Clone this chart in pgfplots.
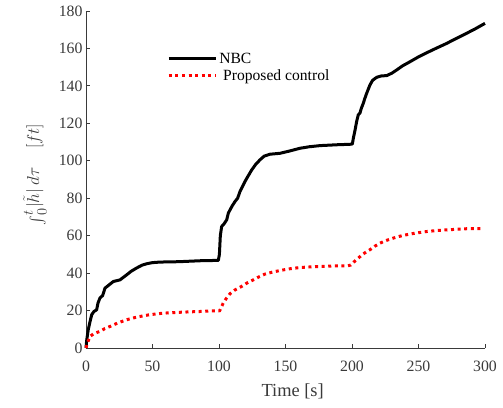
\documentclass[border=0pt]{standalone}
\usepackage{fontspec}
\setmainfont{Liberation Serif}
\usepackage{graphicx}
\usepackage{pgfplots}
\pgfplotsset{compat=1.18}

\definecolor{axisgray}{HTML}{3A3A3A}
\definecolor{nbcred}{HTML}{FF0000}
% enlarged integral sign with side limits
\newcommand{\bigint}{\mathop{\raisebox{-0.25em}{\scalebox{1.45}{$\int$}}}\nolimits}

\begin{document}
\begin{tikzpicture}
% fixed canvas: axis box south-west corner sits at the origin
\useasboundingbox (-86pt,-59pt) rectangle (417pt,348pt);
\begin{axis}[
  scale only axis,
  width=399pt, height=337pt,
  at={(0pt,0pt)}, anchor=south west,
  xmin=0, xmax=300, ymin=0, ymax=180,
  xtick={0,50,...,300}, ytick={0,20,...,180},
  axis x line*=bottom, axis y line*=left,
  axis line style={axisgray, line width=0.8pt, -},
  tick style={axisgray, line width=0.8pt},
  tick align=inside,
  major tick length=4pt,
  minor tick num=0,
  /pgf/number format/assume math mode=true,
  ticklabel style={font=\fontsize{15.8}{18}\selectfont, text=axisgray},
  xticklabel style={yshift=-9pt},
  xlabel={Time [s]},
  xlabel style={font=\fontsize{18.4}{22}\selectfont, text=axisgray,
    at={(axis description cs:0.518,0)}, anchor=base, yshift=-48pt},
  ylabel={$\bigint_0^t\!\big|\tilde{h}\big|\,d\tau\quad[ft]$},
  ylabel style={font=\fontsize{19}{22}\selectfont, text=axisgray,
    at={(axis description cs:-0.128,0.515)}, anchor=center},
  legend style={draw=none, fill=none, font=\fontsize{15.6}{18}\selectfont,
    at={(axis cs:61,158.8)}, anchor=north west, inner sep=0pt,
    row sep=1pt, cells={anchor=west}},
  legend image code/.code={%
    \path (0pt,0pt) -- (47pt,0pt);
    \draw[#1] (0pt,0pt) -- (40pt,0pt);},
  clip=false,
]
% uncontrolled baseline
\addplot[black, line width=3pt, line join=round] coordinates {
(0,0)(0.5,4)(1.7,9.8)(3,14)(4.3,17.8)(6,19.5)(8,20.4)(9,24)(10.5,26.7)
(12.5,28)(14.3,32)(17,33.5)(20.5,35.5)(25.6,36.4)(30.6,39.1)(34,41)
(38,42.7)(42,44.2)(45.6,45)(50,45.6)(55.6,45.9)(70,46.1)(85.7,46.6)
(99.5,46.8)(100.3,50)(101,60)(102,64.9)(104,66.5)(105.8,68.5)(107,72)
(108.3,73.8)(110,76)(112,78.2)(114,80)(115.8,83.6)(117.5,86)(119.5,88.9)
(122,92)(124.6,95.1)(127.5,98)(130.8,100.5)(134,102.5)(138.3,103.5)
(145.9,104)(153,105.2)(161,106.7)(168,107.5)(176,108.1)(190,108.6)
(198.5,108.8)(200.3,109)(201,112)(202.3,116.4)(203.5,121)(204.7,124.5)
(206,125.5)(207,128)(208.5,130.7)(209.5,133)(211,136)(213.5,140.5)
(215.5,143)(218.6,144.6)(222,145.3)(226.1,145.5)(230,146.8)(233.6,148.5)
(238,150.7)(243.6,152.9)(250,155.5)(256.2,157.7)(263,160)(271.2,162.7)
(278,165.2)(286.2,168.1)(293,170.6)(300,173.4)
};
\addlegendentry{NBC}
% proposed controller
\addplot[nbcred, line width=3pt, dash pattern=on 3pt off 3.6pt] coordinates {
(0,0)(1,2.5)(3,6.2)(6,7.7)(10.5,8.9)(14,10.3)(18,11.5)(24,13.4)(30.6,15.1)
(38,16.5)(48,17.8)(58,18.6)(68,19)(78,19.3)(85.7,19.5)(95,19.8)(100.5,19.9)
(101.5,21.5)(103.2,24)(105.5,26.5)(108.3,29)(112,31)(117,32.9)(121,34.7)
(125.8,36.4)(130,38)(134.6,39.5)(140,40.5)(145.9,41.4)(153,42.3)(161,43)
(173.5,43.5)(185,43.8)(197,43.9)(199,44.3)(201,45.7)(204.7,48)(208.5,50.3)
(213.5,52.5)(217,54.3)(221,56)(226,57.5)(231,58.7)(236,59.7)(241,60.5)
(248,61.4)(256,62.2)(263,62.7)(271,63.1)(286,63.7)(298,63.8)
};
\addlegendentry{\ Proposed control}
\end{axis}
\end{tikzpicture}
\end{document}
